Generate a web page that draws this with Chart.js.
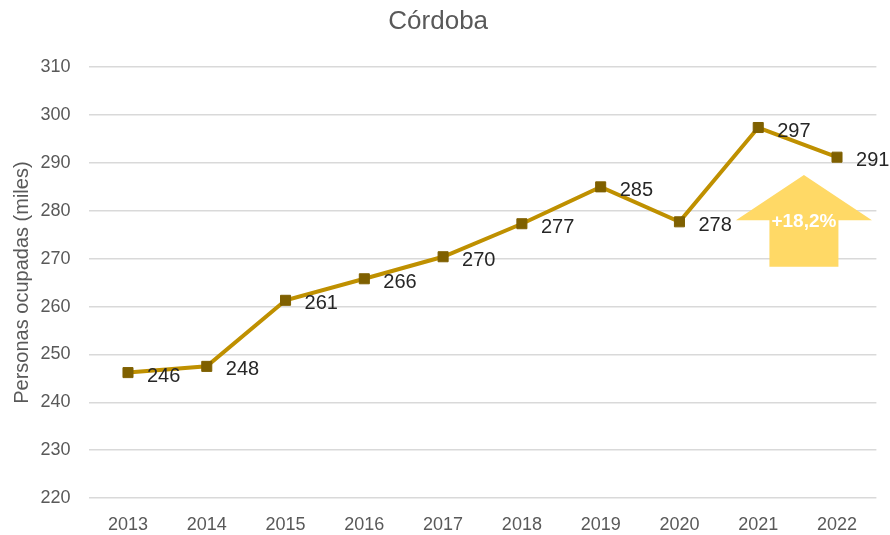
<!DOCTYPE html>
<html>
<head>
<meta charset="utf-8">
<script src="https://cdn.jsdelivr.net/npm/chart.js@4.4.1/dist/chart.umd.min.js"></script>
<style>
  html, body { margin: 0; padding: 0; background: #ffffff; }
  #wrap { width: 890px; height: 535px; position: relative; }
</style>
</head>
<body>
<div id="wrap"><canvas id="c" width="890" height="535"></canvas></div>
<script>
// ---- data ----
const years = ['2013', '2014', '2015', '2016', '2017', '2018', '2019', '2020', '2021', '2022'];
const ocupados = [246.2, 247.5, 261.3, 265.8, 270.4, 277.3, 285.0, 277.7, 297.4, 291.2];
const yTicks = [220, 230, 240, 250, 260, 270, 280, 290, 300, 310];
const chartTitle = 'Córdoba';
const yTitle = 'Personas ocupadas (miles)';
const arrowText = '+18,2%';
// arrow annotation placement (in data units)
const arrowX = 8.58;       // category position between 2021 and 2022
const arrowTop = 287.5;
const arrowNeck = 278.0;
const arrowBottom = 268.3;

const FONT = '"Liberation Sans", Arial, sans-serif';

const dataLabelPlugin = {
  id: 'dataLabels',
  afterDatasetsDraw(chart) {
    const ctx = chart.ctx;
    const meta = chart.getDatasetMeta(0);
    ctx.save();
    ctx.font = '20px ' + FONT;
    ctx.fillStyle = '#262626';
    ctx.textAlign = 'left';
    ctx.textBaseline = 'alphabetic';
    meta.data.forEach((pt, i) => {
      ctx.fillText(String(Math.round(ocupados[i])), pt.x + 19, pt.y + 9);
    });
    ctx.restore();
  }
};

const arrowPlugin = {
  id: 'arrow',
  afterDatasetsDraw(chart) {
    const ctx = chart.ctx;
    const xs = chart.scales.x, ys = chart.scales.y;
    const cx = xs.getPixelForValue(arrowX);
    const yTop = ys.getPixelForValue(arrowTop);
    const yNeck = ys.getPixelForValue(arrowNeck);
    const yBot = ys.getPixelForValue(arrowBottom);
    const headHalf = 68, shaftHalf = 34.5;
    ctx.save();
    ctx.fillStyle = '#FFD966';
    ctx.beginPath();
    ctx.moveTo(cx, yTop);
    ctx.lineTo(cx + headHalf, yNeck);
    ctx.lineTo(cx + shaftHalf, yNeck);
    ctx.lineTo(cx + shaftHalf, yBot);
    ctx.lineTo(cx - shaftHalf, yBot);
    ctx.lineTo(cx - shaftHalf, yNeck);
    ctx.lineTo(cx - headHalf, yNeck);
    ctx.closePath();
    ctx.fill();
    ctx.font = 'bold 19px ' + FONT;
    ctx.fillStyle = '#ffffff';
    ctx.textAlign = 'center';
    ctx.textBaseline = 'alphabetic';
    ctx.fillText(arrowText, cx, yNeck + 7);
    ctx.restore();
  }
};

new Chart(document.getElementById('c'), {
  type: 'line',
  data: {
    labels: years,
    datasets: [{
      data: ocupados,
      borderColor: '#BF9000',
      borderWidth: 4,
      pointStyle: 'rect',
      pointRadius: 7.1,
      pointHoverRadius: 7.1,
      pointBackgroundColor: '#7F6000',
      pointBorderColor: '#7F6000',
      pointBorderWidth: 1,
      tension: 0,
      fill: false
    }]
  },
  options: {
    responsive: false,
    animation: false,
    devicePixelRatio: 1,
    layout: { padding: { left: 0, right: 13.6, top: 0, bottom: 0 } },
    plugins: {
      legend: { display: false },
      tooltip: { enabled: false },
      title: {
        display: true,
        text: chartTitle,
        color: '#595959',
        font: { family: FONT, size: 26, weight: 'normal' },
        padding: { top: 6, bottom: 30 }
      }
    },
    scales: {
      x: {
        offset: true,
        afterFit(scale) { scale.height = 37; },
        grid: { display: false, drawTicks: false },
        border: { display: false },
        ticks: {
          color: '#595959',
          font: { family: FONT, size: 18 },
          padding: 16,
          maxRotation: 0
        }
      },
      y: {
        min: 220,
        max: 310,
        afterBuildTicks(scale) { scale.ticks = yTicks.map(v => ({ value: v })); },
        afterFit(scale) { scale.width = 88.6; },
        grid: { color: '#D9D9D9', lineWidth: 1.5, drawTicks: false },
        border: { display: false },
        ticks: {
          color: '#595959',
          font: { family: FONT, size: 18 },
          padding: 18
        },
        title: {
          display: true,
          text: yTitle,
          color: '#595959',
          font: { family: FONT, size: 20 },
          padding: { top: 10, bottom: 0 }
        }
      }
    }
  },
  plugins: [dataLabelPlugin, arrowPlugin]
});
</script>
</body>
</html>
